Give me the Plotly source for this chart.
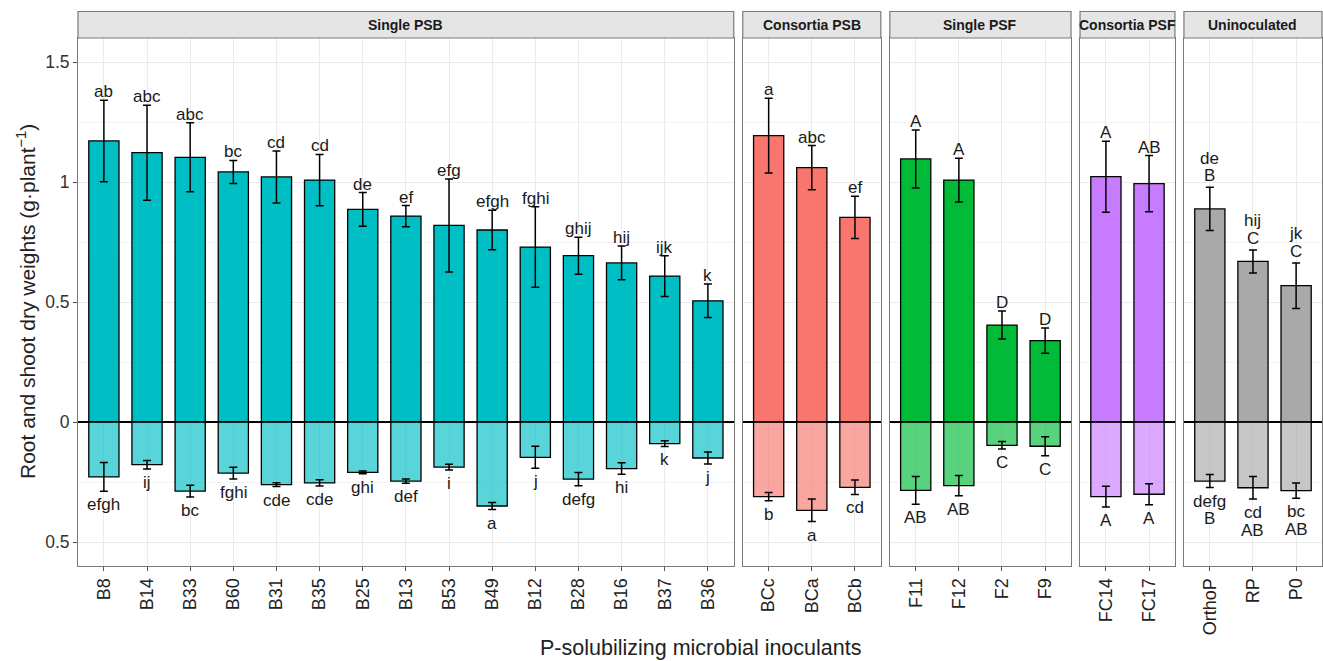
import plotly.graph_objects as go

# ---- data -------------------------------------------------------------
groups = ["Single PSB", "Consortia PSB", "Single PSF", "Consortia PSF", "Uninoculated"]
group_colors = ["#00BFC4", "#F8766D", "#00BA38", "#C77CFF", "#A9A9A9"]

categories = ["B8", "B14", "B33", "B60", "B31", "B35", "B25", "B13", "B53", "B49",
              "B12", "B28", "B16", "B37", "B36",
              "BCc", "BCa", "BCb",
              "F11", "F12", "F2", "F9",
              "FC14", "FC17",
              "OrthoP", "RP", "P0"]
category_group = ["Single PSB"] * 15 + ["Consortia PSB"] * 3 + ["Single PSF"] * 4 + \
                 ["Consortia PSF"] * 2 + ["Uninoculated"] * 3

# shoot dry weight (plotted upward)
shoot = [1.171, 1.122, 1.103, 1.042, 1.021, 1.008, 0.886, 0.858, 0.819, 0.800,
         0.729, 0.693, 0.663, 0.608, 0.505,
         1.193, 1.060, 0.853,
         1.096, 1.008, 0.404, 0.339,
         1.022, 0.993,
         0.888, 0.669, 0.568]
shoot_err = [0.170, 0.198, 0.144, 0.048, 0.108, 0.107, 0.070, 0.044, 0.194, 0.082,
             0.168, 0.077, 0.070, 0.085, 0.070,
             0.156, 0.092, 0.088,
             0.121, 0.091, 0.058, 0.053,
             0.148, 0.117,
             0.090, 0.048, 0.095]
# root dry weight (plotted downward)
root = [0.229, 0.178, 0.288, 0.213, 0.261, 0.254, 0.210, 0.246, 0.188, 0.350,
        0.147, 0.238, 0.194, 0.090, 0.150,
        0.311, 0.368, 0.272,
        0.285, 0.265, 0.097, 0.101,
        0.311, 0.301,
        0.246, 0.274, 0.286]
root_err = [0.060, 0.018, 0.024, 0.024, 0.008, 0.013, 0.006, 0.009, 0.012, 0.015,
            0.046, 0.028, 0.024, 0.012, 0.025,
            0.017, 0.047, 0.030,
            0.058, 0.042, 0.016, 0.040,
            0.043, 0.044,
            0.027, 0.047, 0.032]

shoot_letters = ["ab", "abc", "abc", "bc", "cd", "cd", "de", "ef", "efg", "efgh",
                 "fghi", "ghij", "hij", "ijk", "k",
                 "a", "abc", "ef",
                 "A", "A", "D", "D",
                 "A", "AB",
                 "de<br>B", "hij<br>C", "jk<br>C"]
root_letters = ["efgh", "ij", "bc", "fghi", "cde", "cde", "ghi", "def", "i", "a",
                "j", "defg", "hi", "k", "j",
                "b", "a", "cd",
                "AB", "AB", "C", "C",
                "A", "A",
                "defg<br>B", "cd<br>AB", "bc<br>AB"]

y_ticks = [-0.5, 0, 0.5, 1, 1.5]
y_tick_text = ["0.5", "0", "0.5", "1", "1.5"]

# ---- layout geometry --------------------------------------------------
W, H = 1323, 661
margin = dict(l=78, r=1, t=38, b=95)
plot_w = W - margin["l"] - margin["r"]
plot_h = H - margin["t"] - margin["b"]
gap = 9 / plot_w
strip_h = 26.5 / plot_h

FONT = "Arial, Liberation Sans, sans-serif"
BORDER = "#7a7a7a"
GRID = "#ebebeb"
LETTER_SIZE = 17
LINE_STEP = 17.5  # px between stacked letter rows


def lighten(hex_color, alpha=0.65):
    h = hex_color.lstrip("#")
    r, g, b = (int(h[i:i + 2], 16) for i in (0, 2, 4))
    return f"rgba({r},{g},{b},{alpha})"


counts = [category_group.count(g) for g in groups]
units = [n + 0.2 for n in counts]
usable = 1 - gap * (len(groups) - 1)
domains = []
x0 = 0.0
for u in units:
    w = usable * u / sum(units)
    domains.append([x0, x0 + w])
    x0 += w + gap

fig = go.Figure()
annotations = []
shapes = []


def letter(x, y, xa, ya, text, anchor, shift):
    return dict(x=x, y=y, xref=xa, yref=ya, text=text, showarrow=False,
                xanchor="center", yanchor=anchor, yshift=shift,
                font=dict(family=FONT, size=LETTER_SIZE, color="#1a1a1a"))


for i, g in enumerate(groups):
    idx = [k for k, cg in enumerate(category_group) if cg == g]
    cats = [categories[k] for k in idx]
    sfx = "" if i == 0 else str(i + 1)
    xa, ya = "x" + sfx, "y" + sfx
    color = group_colors[i]

    # shoot bars (up)
    fig.add_trace(go.Bar(
        x=cats, y=[shoot[k] for k in idx], xaxis=xa, yaxis=ya, width=0.7,
        marker=dict(color=color, line=dict(color="black", width=1.3)),
        error_y=dict(type="data", array=[shoot_err[k] for k in idx],
                     color="black", thickness=1.5, width=4),
        showlegend=False, hoverinfo="x+y"))
    # root bars (down)
    fig.add_trace(go.Bar(
        x=cats, y=[-root[k] for k in idx], xaxis=xa, yaxis=ya, width=0.7,
        marker=dict(color=lighten(color), line=dict(color="black", width=1.3)),
        error_y=dict(type="data", array=[root_err[k] for k in idx],
                     color="black", thickness=1.5, width=4),
        showlegend=False, hoverinfo="x+y"))

    # significance letters, stacked rows drawn one by one for tight spacing
    for k in idx:
        rows = shoot_letters[k].split("<br>")
        base = -3 + (3 if len(rows) > 1 else 0)
        for j, row in enumerate(reversed(rows)):
            annotations.append(letter(categories[k], shoot[k] + shoot_err[k], xa, ya,
                                      row, "bottom", base + LINE_STEP * j))
        rows = root_letters[k].split("<br>")
        for j, row in enumerate(rows):
            annotations.append(letter(categories[k], -root[k] - root_err[k], xa, ya,
                                      row, "top", -2 - LINE_STEP * j))

    n = len(cats)
    fig.update_layout(**{
        ("xaxis" if i == 0 else f"xaxis{i + 1}"): dict(
            domain=domains[i], anchor=ya, type="category",
            categoryorder="array", categoryarray=cats,
            range=[-0.6, n - 0.4], showgrid=True, gridcolor=GRID, gridwidth=1,
            showline=True, linecolor=BORDER, linewidth=1, mirror=True,
            ticks="outside", ticklen=4, tickcolor="#555", tickangle=-90,
            tickfont=dict(family=FONT, size=18, color="#222"),
            zeroline=False, fixedrange=True),
        ("yaxis" if i == 0 else f"yaxis{i + 1}"): dict(
            domain=[0, 1], anchor=xa, range=[-0.6, 1.6],
            tickvals=y_ticks, ticktext=y_tick_text,
            showticklabels=(i == 0), ticks="outside" if i == 0 else "",
            ticklen=4, tickcolor="#555",
            tickfont=dict(family=FONT, size=17.5, color="#333"),
            showgrid=True, gridcolor=GRID, gridwidth=1,
            minor=dict(tickvals=[-0.25, 0.25, 0.75, 1.25], showgrid=True,
                       gridcolor="#f3f3f3", gridwidth=1),
            showline=True, linecolor=BORDER, linewidth=1, mirror=True,
            zeroline=True, zerolinecolor="black", zerolinewidth=1.6,
            fixedrange=True),
    })

    # facet strip
    shapes.append(dict(type="rect", xref="paper", yref="paper",
                       x0=domains[i][0], x1=domains[i][1],
                       y0=1, y1=1 + strip_h,
                       fillcolor="#e5e5e5", line=dict(color=BORDER, width=1.2)))
    annotations.append(dict(x=(domains[i][0] + domains[i][1]) / 2,
                            y=1 + strip_h / 2, xref="paper", yref="paper",
                            xanchor="center", yanchor="middle",
                            text=f"<b>{g}</b>", showarrow=False,
                            font=dict(family=FONT, size=14, color="#1a1a1a")))

# axis titles
annotations.append(dict(x=0.5, y=-(648 - (H - margin["b"])) / plot_h,
                        xref="paper", yref="paper", xanchor="center", yanchor="middle",
                        text="P-solubilizing microbial inoculants", showarrow=False,
                        font=dict(family=FONT, size=21.5, color="#222")))
annotations.append(dict(x=-(78 - 26) / plot_w, y=0.5, xref="paper", yref="paper",
                        xanchor="center", yanchor="middle", textangle=-90,
                        text="Root and shoot dry weights (g\u00b7plant<sup>\u22121</sup>)",
                        showarrow=False,
                        font=dict(family=FONT, size=21, color="#222")))

fig.update_layout(
    width=W, height=H, margin=margin,
    paper_bgcolor="white", plot_bgcolor="white",
    barmode="overlay", annotations=annotations, shapes=shapes,
    font=dict(family=FONT),
)

fig.write_html("out.html")
